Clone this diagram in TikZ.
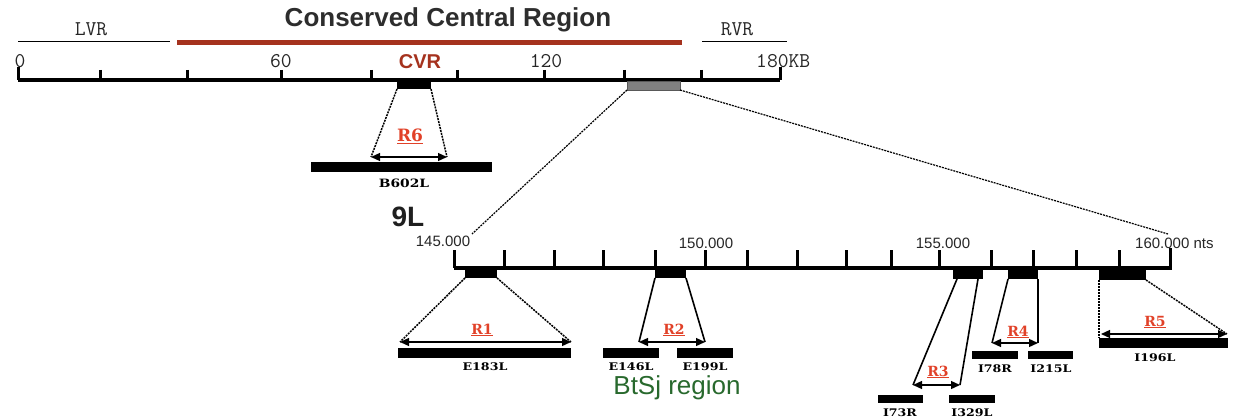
\documentclass[tikz,border=0pt]{standalone}
\usepackage{fontspec}
\setmainfont{Liberation Sans}
\newfontfamily\serifb{DejaVu Serif}
\usetikzlibrary{arrows.meta}
\definecolor{cvrred}{RGB}{165,50,30}
\definecolor{rlabc}{RGB}{225,65,40}
\definecolor{btgreen}{RGB}{40,105,45}
\definecolor{titlegray}{RGB}{45,45,45}
\begin{document}
\begin{tikzpicture}[x=1pt,y=-1pt,
  blk/.style={fill=black,draw=none,inner sep=0pt,outer sep=0pt},
  rl/.style={line width=3.5pt},
  rtick/.style={line width=3pt},
  conn/.style={line width=1.5pt,dash pattern=on 2pt off 1pt},
  connS/.style={line width=1.6pt},
  dbl/.style={line width=1.3pt,{Triangle[length=9pt,width=8pt]}-{Triangle[length=9pt,width=8pt]}},
  rlab/.style={text=rlabc,font=\serifb\bfseries\fontsize{14}{14}\selectfont,inner sep=0pt},
  blab/.style={font=\serifb\bfseries\fontsize{10.5}{10.5}\selectfont,inner sep=0pt,xscale=1.2},
  mono/.style={font=\ttfamily\fontsize{21}{21}\selectfont,inner sep=0pt,text=black!85},
  nts/.style={font=\fontsize{15}{15}\selectfont,inner sep=0pt,text=black!85},
]
\path[use as bounding box] (0,0) rectangle (1234,417);

% ---------- top ruler ----------
\draw[line width=1pt] (18,42) -- (170,42);
\node[mono] (lvr) at (91,29) {LVR};
\draw[cvrred,line width=5pt] (177,43) -- (682,43);
\draw[line width=1pt] (702,42) -- (787,42);
\node[mono] (rvr) at (737,29) {RVR};
\node[font=\bfseries\fontsize{26}{26}\selectfont,text=titlegray,inner sep=0pt] (title) at (448,20) {Conserved Central Region};

\draw[rl] (18,80) -- (780,80);
\draw[rtick] (18,67) -- (18,80);
\draw[rtick] (780,67) -- (780,80);
\foreach \x in {100,187,281,371,457,544,624,701}
  \draw[rtick] (\x,70) -- (\x,80);
\node[mono] (k0) at (20,61) {0};
\node[mono] (k60) at (281,61) {60};
\node[mono] (k120) at (546,61) {120};
\node[mono,anchor=west] (k180) at (756,61) {180KB};
\node[font=\bfseries\fontsize{20}{20}\selectfont,text=cvrred,inner sep=0pt] (cvr) at (420,62) {CVR};

\node[blk,minimum width=34pt,minimum height=9pt] (b6) at (414,84.5) {};
\node[fill=black!50,draw=black!65,line width=0.6pt,inner sep=0pt,outer sep=0pt,minimum width=53pt,minimum height=9pt] (grey) at (653.5,85.5) {};

% R6
\coordinate (a6l) at (371,157);
\coordinate (a6r) at (447,157);
\draw[conn] (b6.south west) -- (a6l);
\draw[conn] (b6.south east) -- (a6r);
\draw[dbl] (a6l) -- (a6r);
\node[rlab,font=\serifb\bfseries\fontsize{17}{17}\selectfont] (r6) at (410,136) {\underline{R6}};
\node[blk,minimum width=181pt,minimum height=10pt] (bar6) at (401.5,167) {};
\node[blab,font=\serifb\bfseries\fontsize{11.5}{11.5}\selectfont] (lb6) at (404,183) {B602L};

\node[font=\bfseries\fontsize{28}{28}\selectfont,text=black!88,inner sep=0pt] (nl) at (408,217) {9L};

% ---------- zoom lines ----------
\coordinate (z1) at (472,234);
\coordinate (z2) at (1168,234);
\draw[conn,line width=1.2pt] (grey.south west) -- (z1);
\draw[conn,line width=1.2pt] (grey.south east) -- (z2);

% ---------- bottom ruler ----------
\draw[rl] (454,268) -- (1170,268);
\draw[rtick] (454,250) -- (454,268);
\draw[rtick] (1170,248) -- (1170,270);
\foreach \x in {504,554,603,655,705,747,797,846,891,939,991,1033,1076,1119}
  \draw[rtick] (\x,250) -- (\x,268);
\node[nts] (n145) at (443,241) {145.000};
\node[nts] (n150) at (706,243) {150.000};
\node[nts] (n155) at (943,243) {155.000};
\node[nts,anchor=west] (n160) at (1135,243) {160.000 nts};

\node[blk,minimum width=32pt,minimum height=10pt] (b1) at (481,273) {};
\node[blk,minimum width=31pt,minimum height=10pt] (b2) at (670.5,273) {};
\node[blk,minimum width=30pt,minimum height=12pt] (b3) at (968,273) {};
\node[blk,minimum width=30pt,minimum height=12pt] (b4) at (1023,273) {};
\node[blk,minimum width=47pt,minimum height=13pt] (b5) at (1122.5,273.5) {};

% R1
\coordinate (a1l) at (400,342);
\coordinate (a1r) at (571,342);
\draw[conn] (b1.south west) -- (a1l);
\draw[conn] (b1.south east) -- (a1r);
\draw[dbl] (a1l) -- (a1r);
\node[rlab] (r1) at (482,330) {\underline{R1}};
\node[blk,minimum width=173pt,minimum height=10pt] (bar1) at (484.5,353) {};
\node[blab] (lb1) at (485,367) {E183L};

% R2
\coordinate (a2l) at (639,342);
\coordinate (a2r) at (705,342);
\draw[connS] (b2.south west) -- (a2l);
\draw[connS] (b2.south east) -- (a2r);
\draw[dbl] (a2l) -- (a2r);
\node[rlab] (r2) at (674,330) {\underline{R2}};
\node[blk,minimum width=56pt,minimum height=10pt] (bar2a) at (631,353) {};
\node[blk,minimum width=56pt,minimum height=10pt] (bar2b) at (705,353) {};
\node[blab] (lb2a) at (631,367) {E146L};
\node[blab] (lb2b) at (705,367) {E199L};
\node[font=\fontsize{26}{26}\selectfont,text=btgreen,inner sep=0pt] (btsj) at (677,388) {BtSj region};

% R3
\coordinate (s3l) at (957,279);
\coordinate (s3r) at (978,279);
\coordinate (a3l) at (913,385);
\coordinate (a3r) at (960,385);
\draw[connS] (s3l) -- (a3l);
\draw[connS] (s3r) -- (a3r);
\draw[dbl] (a3l) -- (a3r);
\node[rlab] (r3) at (938,372) {\underline{R3}};
\node[blk,minimum width=45pt,minimum height=8pt] (bar3a) at (900.5,399) {};
\node[blk,minimum width=46pt,minimum height=8pt] (bar3b) at (972,399) {};
\node[blab] (lb3a) at (900,413) {I73R};
\node[blab] (lb3b) at (972,413) {I329L};

% R4
\coordinate (a4l) at (992,343);
\coordinate (a4r) at (1038,343);
\draw[connS] (b4.south west) -- (a4l);
\draw[connS] (b4.south east) -- (a4r);
\draw[dbl] (a4l) -- (a4r);
\node[rlab] (r4) at (1018,332) {\underline{R4}};
\node[blk,minimum width=46pt,minimum height=8pt] (bar4a) at (995,355) {};
\node[blk,minimum width=45pt,minimum height=8pt] (bar4b) at (1050.5,355) {};
\node[blab] (lb4a) at (995,369) {I78R};
\node[blab] (lb4b) at (1051,369) {I215L};

% R5
\coordinate (c5) at (1099,338);
\coordinate (a5l) at (1101,334);
\coordinate (a5r) at (1227,334);
\draw[conn] (b5.south west) -- (c5);
\draw[conn] (b5.south east) -- (a5r);
\draw[dbl] (a5l) -- (a5r);
\node[rlab] (r5) at (1155,322) {\underline{R5}};
\node[blk,minimum width=129pt,minimum height=10pt] (bar5) at (1163.5,343) {};
\node[blab] (lb5) at (1155,358) {I196L};
\end{tikzpicture}
\end{document}
